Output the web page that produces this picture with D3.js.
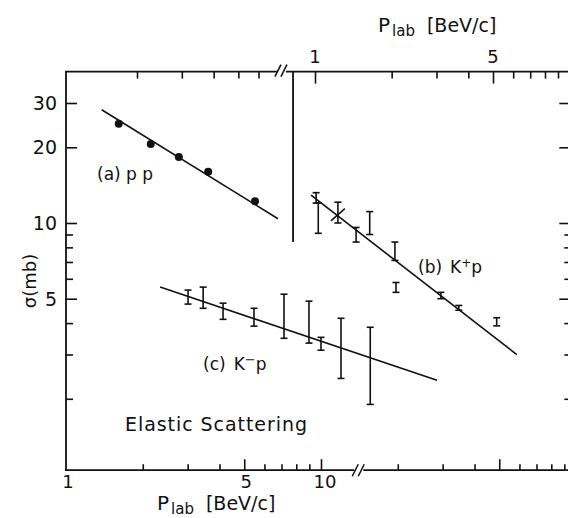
<!DOCTYPE html>
<html>
<head>
<meta charset="utf-8">
<script src="https://cdn.jsdelivr.net/npm/d3@7"></script>
<style>
  body { margin: 0; background: #fff; }
  svg { display: block; }
  text { font-family: "DejaVu Sans", sans-serif; fill: #111; }
</style>
</head>
<body>
<svg id="chart" width="568" height="518"></svg>
<script>
// (a) p p  -- momentum read on the bottom axis
let ppP = [1.61, 2.15, 2.77, 3.61, 5.51];
let ppSigma = [24.8, 20.6, 18.3, 16.0, 12.2];
let ppFitP = [1.38, 6.78];
let ppFitSigma = [28.2, 10.4];

// (b) K+p  -- momentum read on the top axis
let kplusP = [1.01, 1.03, 1.23, 1.45, 1.64, 2.06, 2.08, 3.12, 3.67, 5.17];
let kplusLo = [12.0, 9.1, 10.0, 8.4, 9.0, 7.1, 5.3, 5.0, 4.5, 3.9];
let kplusHi = [13.2, 12.0, 12.1, 9.6, 11.1, 8.4, 5.8, 5.3, 4.7, 4.2];
let kplusFitP = [0.965, 6.2];
let kplusFitSigma = [12.9, 3.0];
let kplusCrossP = [1.155, 1.31];
let kplusCrossSigma = [10.2, 11.4];
let thresholdP = 0.82;
let thresholdSigma = 8.4;

// (c) K-p  -- momentum read on the bottom axis
let kminusP = [3.01, 3.45, 4.13, 5.46, 7.16, 8.97, 10.0, 11.98, 15.6];
let kminusLo = [4.76, 4.58, 4.14, 3.89, 3.48, 3.33, 3.12, 2.41, 1.90];
let kminusHi = [5.41, 5.56, 4.80, 4.58, 5.21, 4.89, 3.51, 4.18, 3.85];
let kminusFitP = [2.34, 28.5];
let kminusFitSigma = [5.56, 2.37];

// ticks
let yMajor = [5, 10, 20, 30];
let yMinor = [2, 3, 4, 6, 7, 8, 9];
let yLabels = [5, 10, 20, 30];
let botMajor = [5, 10, 50];
let botMinor = [2, 3, 4, 6, 7, 8, 9, 20, 30, 40, 60, 70, 80, 90];
let botLabels = [1, 5, 10];
let topMajor = [1, 5];
let topMinor = [0.2, 0.3, 0.4, 0.5, 0.6, 2, 3, 4, 6, 7, 8, 9];
let topLabels = [1, 5];

let ink = "#111";
let svg = d3.select("#chart");

// log scales (bottom and top momentum axes share the decade length)
let xBot = d3.scaleLog().domain([1, 10]).range([66, 321]);
let xTop = d3.scaleLog().domain([1, 5]).range([315, 493]);
let y = d3.scaleLog().domain([10, 30]).range([223, 103]);

let frame = {
  left: xBot(1),
  right: xBot(95),
  top: y(40),
  bottom: y(1.04)
};

// axis breaks
let topBreak = xTop(0.735);
let botBreak = xBot(14.0);

// frame lines
let frameG = svg.append("g").attr("stroke", ink).attr("stroke-width", 1.8).attr("fill", "none");
frameG.append("line").attr("x1", frame.left).attr("y1", frame.top).attr("x2", frame.left).attr("y2", frame.bottom);
frameG.append("line").attr("x1", frame.right).attr("y1", frame.top).attr("x2", frame.right).attr("y2", frame.bottom);
frameG.append("line").attr("x1", frame.left - 1).attr("y1", frame.top).attr("x2", topBreak - 4).attr("y2", frame.top);
frameG.append("line").attr("x1", topBreak + 5).attr("y1", frame.top).attr("x2", frame.right).attr("y2", frame.top);
frameG.append("line").attr("x1", frame.left - 1).attr("y1", frame.bottom).attr("x2", botBreak - 4).attr("y2", frame.bottom);
frameG.append("line").attr("x1", botBreak + 5).attr("y1", frame.bottom).attr("x2", frame.right).attr("y2", frame.bottom);

// the // marks
function drawBreak(cx, cy) {
  [-3, 3].forEach(function(off) {
    frameG.append("line")
      .attr("x1", cx + off - 3).attr("y1", cy + 6)
      .attr("x2", cx + off + 3).attr("y2", cy - 6)
      .attr("stroke-width", 1.5);
  });
}
drawBreak(topBreak, frame.top - 1);
drawBreak(botBreak, frame.bottom);

// tick marks through d3 axes
function ticks(axisFn, scale, values, size, tx, ty) {
  let g = svg.append("g")
    .attr("transform", "translate(" + tx + "," + ty + ")")
    .call(axisFn(scale).tickValues(values).tickSize(size).tickSizeOuter(0).tickFormat(""));
  g.select(".domain").remove();
  g.selectAll("line").attr("stroke", ink).attr("stroke-width", 1.6);
  return g;
}
ticks(d3.axisRight, y, yMajor, 11, frame.left, 0);
ticks(d3.axisRight, y, yMinor, 7, frame.left, 0);
ticks(d3.axisLeft, y, yMajor, 11, frame.right, 0);
ticks(d3.axisLeft, y, yMinor, 6, frame.right, 0);
ticks(d3.axisTop, xBot, botMajor, 11, 0, frame.bottom);
ticks(d3.axisTop, xBot, botMinor, 6, 0, frame.bottom);
ticks(d3.axisBottom, xTop, topMajor, 12, 0, frame.top);
ticks(d3.axisBottom, xTop, topMinor, 7, 0, frame.top);

// tick labels
svg.append("g").selectAll("text")
  .data(yLabels).enter().append("text")
  .attr("x", frame.left - 9)
  .attr("y", function(d) { return y(d); })
  .attr("dy", "0.36em")
  .attr("text-anchor", "end")
  .attr("font-size", 19)
  .text(function(d) { return d; });

svg.append("g").selectAll("text")
  .data(botLabels).enter().append("text")
  .attr("x", function(d) { return xBot(d) + (d == 10 ? 4 : 2); })
  .attr("y", frame.bottom + 18)
  .attr("text-anchor", "middle")
  .attr("font-size", 18)
  .text(function(d) { return d; });

svg.append("g").selectAll("text")
  .data(topLabels).enter().append("text")
  .attr("x", function(d) { return xTop(d); })
  .attr("y", frame.top - 9)
  .attr("text-anchor", "middle")
  .attr("font-size", 18)
  .text(function(d) { return d; });

// axis titles  P_lab [BeV/c]
function plabTitle(x, yb) {
  let t = svg.append("text").attr("x", x).attr("y", yb).attr("font-size", 20);
  t.append("tspan").text("P");
  t.append("tspan").attr("font-size", 15).attr("dx", 2).attr("dy", 4).text("lab");
  t.append("tspan").attr("font-size", 19).attr("dx", 12).attr("dy", -4).text("[BeV/c]");
}
plabTitle(157, 510);
plabTitle(378, 32);

// sigma (mb) label
svg.append("text")
  .attr("transform", "translate(36,281) rotate(-90)")
  .attr("text-anchor", "middle")
  .attr("font-size", 18)
  .text("σ(mb)");

// threshold line
svg.append("line")
  .attr("x1", xTop(thresholdP)).attr("y1", frame.top)
  .attr("x2", xTop(thresholdP)).attr("y2", y(thresholdSigma))
  .attr("stroke", ink).attr("stroke-width", 1.8);

// fit lines
let fitG = svg.append("g").attr("stroke", ink).attr("stroke-width", 1.6);
fitG.append("line")
  .attr("x1", xBot(ppFitP[0])).attr("y1", y(ppFitSigma[0]))
  .attr("x2", xBot(ppFitP[1])).attr("y2", y(ppFitSigma[1]));
fitG.append("line")
  .attr("x1", xTop(kplusFitP[0])).attr("y1", y(kplusFitSigma[0]))
  .attr("x2", xTop(kplusFitP[1])).attr("y2", y(kplusFitSigma[1]));
fitG.append("line")
  .attr("x1", xBot(kminusFitP[0])).attr("y1", y(kminusFitSigma[0]))
  .attr("x2", xBot(kminusFitP[1])).attr("y2", y(kminusFitSigma[1]));
fitG.append("line")
  .attr("x1", xTop(kplusCrossP[0])).attr("y1", y(kplusCrossSigma[0]))
  .attr("x2", xTop(kplusCrossP[1])).attr("y2", y(kplusCrossSigma[1]));

// p p points
svg.append("g").selectAll("circle")
  .data(ppP).enter().append("circle")
  .attr("cx", function(d) { return xBot(d); })
  .attr("cy", function(d, i) { return y(ppSigma[i]); })
  .attr("r", 4)
  .attr("fill", ink);

// error bars
function errorBars(xs, lo, hi, xScale) {
  let g = svg.append("g").attr("stroke", ink).attr("stroke-width", 1.6);
  xs.forEach(function(p, i) {
    let x = xScale(p);
    g.append("line").attr("x1", x).attr("x2", x).attr("y1", y(lo[i])).attr("y2", y(hi[i]));
    g.append("line").attr("x1", x - 3.5).attr("x2", x + 3.5).attr("y1", y(lo[i])).attr("y2", y(lo[i]));
    g.append("line").attr("x1", x - 3.5).attr("x2", x + 3.5).attr("y1", y(hi[i])).attr("y2", y(hi[i]));
  });
}
errorBars(kplusP, kplusLo, kplusHi, xTop);
errorBars(kminusP, kminusLo, kminusHi, xBot);

// reaction labels
let lab = svg.append("g").attr("font-size", 17);
lab.append("text").attr("x", 97).attr("y", 180).text("(a) p p");

let tb = lab.append("text").attr("x", 418).attr("y", 273);
tb.append("tspan").text("(b)");
tb.append("tspan").attr("dx", 8).text("K");
tb.append("tspan").attr("font-size", 12).attr("dy", -6).text("+");
tb.append("tspan").attr("dy", 6).text("p");

let tc = lab.append("text").attr("x", 203).attr("y", 370);
tc.append("tspan").text("(c)");
tc.append("tspan").attr("dx", 8).text("K");
tc.append("tspan").attr("font-size", 13).attr("dy", -6).text("−");
tc.append("tspan").attr("dy", 6).text("p");

svg.append("text")
  .attr("x", 125).attr("y", 431)
  .attr("font-size", 19)
  .attr("textLength", 182)
  .attr("lengthAdjust", "spacing")
  .text("Elastic Scattering");
</script>
</body>
</html>
